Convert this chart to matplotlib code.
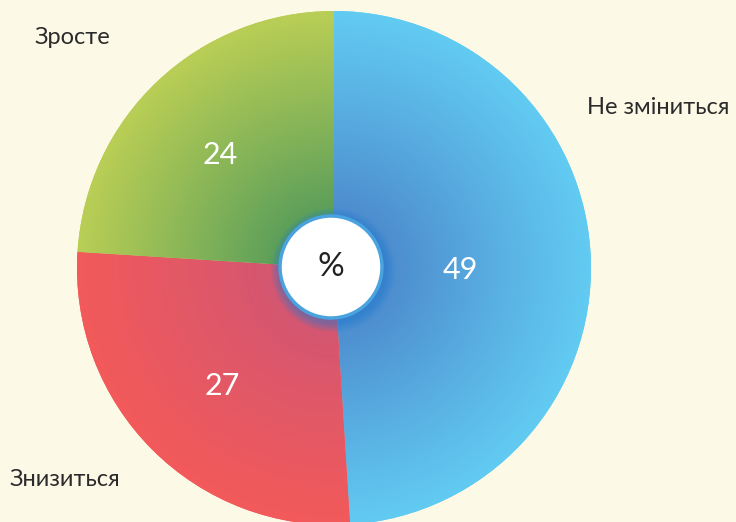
import numpy as np
import matplotlib.pyplot as plt
from matplotlib.patches import Circle
from matplotlib.colors import LinearSegmentedColormap

labels = ['Не зміниться', 'Знизиться', 'Зросте']
values = [49, 27, 24]
# inner (centre) and outer (rim) colours of each slice
inner_colors = ['#4677c2', '#c9557a', '#3b8e5c']
outer_colors = ['#62cbf2', '#f25a5a', '#b9ce55']
label_pos = [(587, 107), (10, 480), (35, 38)]

bg = '#fdf9e7'
W, H = 736, 522
cx, cy, R = 334, 522 - 268, 257

plt.rcParams['font.family'] = ['Lato', 'DejaVu Sans']

fig = plt.figure(figsize=(W / 100, H / 100), dpi=100, facecolor=bg)
ax = fig.add_axes([0, 0, 1, 1])
ax.set_aspect('equal')
ax.axis('off')

wedges, texts = ax.pie(values, startangle=90, counterclock=False,
                       center=(cx, cy), radius=R, labeldistance=None,
                       colors=outer_colors, wedgeprops=dict(linewidth=0))
ax.set_xlim(0, W)
ax.set_ylim(0, H)

# radial gradient for each wedge
n = 400
xs = np.linspace(cx - R, cx + R, n)
ys = np.linspace(cy - R, cy + R, n)
X, Y = np.meshgrid(xs, ys)
dist = np.clip(np.hypot(X - cx, Y - cy) / R, 0, 1)
for w, c0, c1 in zip(wedges, inner_colors, outer_colors):
    cmap = LinearSegmentedColormap.from_list('g', [c0, c1])
    im = ax.imshow(dist ** 0.9, cmap=cmap, vmin=0, vmax=1, origin='lower',
                   extent=(cx - R, cx + R, cy - R, cy + R), zorder=2,
                   interpolation='bilinear')
    im.set_clip_path(w)

# values inside slices
value_pos = [(460, 270), (222, 386), (220, 155)]
for (x, y), v in zip(value_pos, values):
    ax.text(x, H - y, str(v), color='white', fontsize=22,
            ha='center', va='center', zorder=5)

# labels outside
for (x, y), lab in zip(label_pos, labels):
    ax.text(x, H - y, lab, color='#2b2b2b', fontsize=17,
            ha='left', va='center', zorder=5)

# centre circle with glow
ccx, ccy, cr = 331, H - 267, 51
for i in range(10):
    ax.add_patch(Circle((ccx + 2, ccy - 3), cr + 11 - i, color='#1e7fd6',
                        alpha=0.06, lw=0, zorder=3))
ax.add_patch(Circle((ccx, ccy), cr, facecolor='white', edgecolor='#4aa3de',
                    lw=2.5, zorder=4))
ax.text(ccx, ccy, '%', fontsize=24, color='#222222',
        ha='center', va='center', zorder=5)

fig.savefig('out.png', dpi=100, facecolor=bg)
